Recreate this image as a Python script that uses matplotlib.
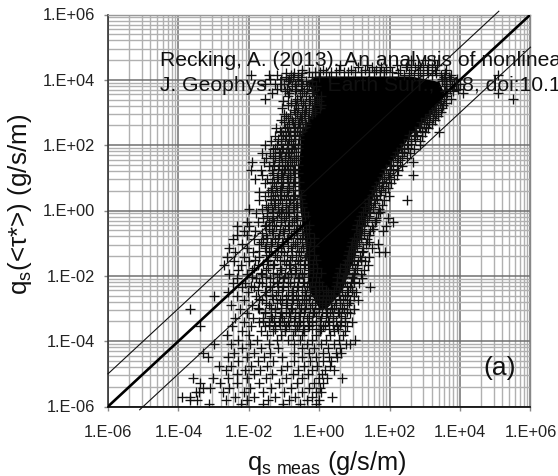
import matplotlib
matplotlib.use("Agg")
import matplotlib.pyplot as plt
import numpy as np

plt.rcParams['font.family'] = ['Liberation Sans', 'DejaVu Sans']
plt.rcParams['mathtext.default'] = 'regular'

tick_exponents = [-6, -4, -2, 0, 2, 4, 6]
tick_labels = ['1.E-06', '1.E-04', '1.E-02', '1.E+00', '1.E+02', '1.E+04', '1.E+06']

# 1:1 line and the factor-of-10 lines
line_1to1_x = [-6, 6]
line_1to1_y = [-6, 6]
line_upper_x = [-6, 5.1]
line_upper_y = [-5, 6.1]
line_lower_x = [-5.1, 6]
line_lower_y = [-6.1, 5]

# Where the crosses overlap into solid black they cannot be told apart,
# so that region is drawn as an envelope.
solid_y = [4.12, 3.95, 3.54, 2.92, 2.31, 1.85, 1.24, 0.63, 0.02, -0.6, -1.51, -2.43, -3.0]
solid_left = [-0.1, -0.35, -0.12, -0.25, -0.55, -0.55, -0.6, -0.6, -0.55, -0.45, -0.35, -0.3, 0.0]
solid_right = [2.6, 3.4, 3.57, 3.15, 2.58, 2.3, 1.87, 1.6, 1.4, 1.2, 0.95, 0.65, 0.2]

# Crosses that can be told apart, row by row (estimated)
row_y = [4.6, 4.45, 4.3, 4.15, 4.02, 3.88, 3.72, 3.6, 3.42, 3.28, 3.15, 3.02, 2.9, 2.78, 2.65, 2.52,
         2.4, 2.27, 2.14, 2.0, 1.88, 1.75, 1.62, 1.5, 1.37, 1.24, 1.1, 0.97, 0.84, 0.7, 0.57, 0.44,
         0.31, 0.18, 0.05, -0.08, -0.22, -0.35, -0.48, -0.62, -0.75, -0.88, -1.02, -1.15, -1.28,
         -1.42, -1.55, -1.68, -1.82, -1.95, -2.08, -2.22, -2.35, -2.48, -2.62, -2.75, -2.88,
         -3.02, -3.15, -3.28, -3.42, -3.55, -3.68, -3.82, -3.95, -4.08, -4.22, -4.35, -4.48,
         -4.62, -4.75, -4.88, -5.02, -5.13, -5.28, -5.43, -5.56, -5.7, -5.8, -5.92]
row_x = [
    [2.6, 3.0, 3.25],
    [0.6, 1.35, 2.2, 2.5, 2.8, 3.1, 3.35],
    [-0.5, 0.1, 0.55, 0.9, 1.3, 1.6, 1.9, 2.3, 2.6, 2.85, 3.05, 3.3, 3.6],
    [-1.95, -1.42, -1.2, -0.8, -0.6, 2.4, 2.7, 2.95, 3.2, 3.45, 3.75, 5.08],
    [-1.4, -1.1, -0.85, -0.6, 3.5, 3.72, 3.92],
    [-1.55, -1.25, -1.0, -0.7, -0.5, 3.6, 3.83, 4.0],
    [-1.2, -0.92, -0.65, -0.35, 3.7, 3.95],
    [-1.33, -0.85, -0.5, -0.2, 3.62, 4.09, 5.08],
    [-1.54, -0.62, -0.3, -0.05, 3.55, 3.75, 5.5],
    [-0.8, -0.45, -0.15, 3.42, 3.6],
    [-1.05, -0.6, -0.3, 0.02, 3.3, 3.5],
    [-0.7, -0.4, -0.12, 3.25, 3.45],
    [-0.95, -0.55, -0.3, 3.15, 3.38],
    [-1.1, -0.78, -0.48, 3.05, 3.28],
    [-0.85, -0.6, -0.38, 2.98, 3.2],
    [-1.22, -0.98, -0.7, -0.45, 2.85, 3.1],
    [-1.08, -0.82, -0.55, 2.75, 3.0, 3.4],
    [-1.25, -0.95, -0.68, 2.7, 2.92],
    [-1.38, -1.1, -0.8, 2.6, 2.85],
    [-1.55, -1.2, -0.92, -0.68, 2.5, 2.86],
    [-1.32, -1.05, -0.78, 2.4, 2.68],
    [-1.62, -1.4, -1.12, -0.85, 2.35, 2.58],
    [-1.5, -1.25, -0.98, -0.72, 2.25, 2.5],
    [-1.92, -1.58, -1.3, -1.05, -0.78, 2.2, 2.66],
    [-1.42, -1.15, -0.88, 2.05, 2.35],
    [-1.95, -1.65, -1.35, -1.0, -0.75, 2.0, 2.25],
    [-1.62, -1.3, -1.08, -0.82, 1.95, 2.66, 2.2],
    [-1.82, -1.48, -1.18, -0.92, 1.85, 2.12],
    [-1.55, -1.28, -1.02, -0.75, 1.78, 2.05],
    [-1.35, -1.1, -0.85, 1.7, 1.95],
    [-1.7, -1.45, -1.2, -0.92, 1.62, 1.88],
    [-1.55, -1.3, -1.0, -0.72, 1.62, 1.98],
    [-1.72, -1.38, -1.12, -0.82, 1.55, 1.85, 2.5],
    [-1.5, -1.25, -0.95, -0.65, 1.48, 1.78],
    [-2.0, -1.62, -1.35, -1.05, -0.75, 1.42, 1.7],
    [-1.8, -1.48, -1.15, -0.85, 1.4, 1.68],
    [-1.6, -1.3, -1.0, -0.65, 1.35, 1.62, 1.95],
    [-2.05, -1.75, -1.42, -1.1, -0.78, 1.3, 1.58, 2.1],
    [-2.33, -2.0, -1.55, -1.22, -0.9, -0.55, 1.22, 1.5, 1.9],
    [-2.15, -1.82, -1.35, -1.02, -0.65, 1.18, 1.45, 1.82],
    [-2.35, -2.05, -1.5, -1.15, -0.8, -0.45, 1.15, 1.42],
    [-2.45, -1.85, -1.6, -1.25, -0.92, -0.55, 1.08, 1.35],
    [-2.2, -1.72, -1.38, -1.02, -0.68, -0.38, 1.05, 1.32, 1.68],
    [-2.55, -2.05, -1.55, -1.18, -0.8, -0.45, 1.02, 1.25, 1.5],
    [-2.38, -1.88, -1.38, -1.0, -0.58, 0.95, 1.22, 1.87, 1.7],
    [-2.62, -2.15, -1.7, -1.2, -0.78, -0.4, 0.9, 1.15, 1.4],
    [-2.42, -2.0, -1.48, -1.0, -0.6, 0.85, 1.1, 1.3],
    [-2.7, -2.22, -1.75, -1.3, -0.85, -0.42, 0.8, 1.08, 1.38],
    [-2.3, -1.92, -1.52, -1.08, -0.65, -0.3, 0.78, 1.02, 1.28],
    [-2.55, -2.05, -1.62, -1.2, -0.8, -0.48, 0.72, 1.0, 1.2],
    [-2.35, -1.8, -1.4, -1.0, -0.6, 0.68, 0.95, 1.22],
    [-2.45, -2.12, -1.62, -1.2, -0.82, -0.42, 0.65, 0.9, 1.12],
    [-2.2, -1.85, -1.4, -1.02, -0.62, -0.25, 0.6, 0.88, 1.44],
    [-2.6, -2.02, -1.55, -1.18, -0.78, -0.4, -0.1, 0.25, 0.55, 0.82, 1.05],
    [-3.0, -2.35, -1.8, -1.35, -0.95, -0.6, -0.25, 0.1, 0.4, 0.72, 1.0],
    [-2.15, -1.62, -1.12, -0.75, -0.42, -0.05, 0.28, 0.6, 0.88, 1.1],
    [-2.5, -1.92, -1.42, -0.95, -0.58, -0.2, 0.15, 0.48, 0.8],
    [-3.67, -2.25, -1.72, -1.25, -0.78, -0.4, 0.0, 0.35, 0.7, 0.98],
    [-2.05, -1.55, -1.1, -0.85, -0.55, -0.18, 0.22, 0.55, 0.88],
    [-2.38, -1.88, -1.6, -1.35, -1.05, -0.7, -0.35, 0.05, 0.4, 0.72],
    [-2.15, -1.72, -1.42, -1.15, -0.9, -0.55, -0.2, 0.28, 0.62, 0.92],
    [-3.4, -2.48, -1.95, -1.55, -1.25, -0.95, -0.62, -0.3, 0.12, 0.5, 0.8],
    [-2.2, -1.65, -1.3, -0.98, -0.7, -0.42, 0.02, 0.42, 0.72],
    [-2.62, -2.0, -1.48, -1.1, -0.75, -0.48, -0.1, 0.3, 0.68],
    [-2.3, -1.78, -1.2, -0.9, -0.55, -0.2, 0.18, 0.55, 1.02],
    [-3.0, -2.52, -1.98, -1.42, -0.72, -0.35, 0.05, 0.42, 0.75, 0.88],
    [-2.2, -1.65, -1.18, -0.5, -0.15, 0.25, 0.6],
    [-3.3, -2.42, -1.85, -1.4, -0.72, -0.3, 0.1, 0.48, 0.62],
    [-3.15, -2.6, -2.05, -1.58, -1.05, -0.48, -0.1, 0.28, 0.5],
    [-2.3, -1.75, -1.3, -0.72, -0.25, 0.12, 0.32],
    [-2.85, -2.5, -1.95, -1.48, -0.92, -0.42, -0.05, 0.3],
    [-2.65, -2.12, -1.68, -1.1, -0.6, -0.2, 0.15, 0.42],
    [-2.35, -1.85, -1.35, -0.75, -0.32, 0.08],
    [-3.59, -3.02, -2.6, -2.05, -1.5, -0.95, -0.48, 0.0, 0.22, 0.65],
    [-3.39, -2.82, -2.35, -1.72, -1.15, -0.62, -0.15, 0.12],
    [-3.3, -3.1, -2.55, -1.98, -1.38, -0.8, -0.3, 0.03],
    [-3.41, -3.5, -2.72, -2.15, -1.6, -1.0, -0.5, -0.1, 0.05],
    [-3.9, -3.67, -2.4, -1.85, -1.25, -0.68, -0.22, 0.37],
    [-3.67, -3.47, -2.65, -2.05, -1.45, -0.85, -0.35, 0.0],
    [-3.13, -2.22, -1.6, -1.02, -0.55, -0.08],
]

# Crosses of the crowded fringe round the solid part (estimated)
dense_y = [4.38, 4.24, 4.2, 4.08, 3.95, 3.8, 3.66, 3.5, 3.36, 3.22, 3.08, 2.95, 2.82, 2.7, 2.56, 2.44, 2.3,
           2.18, 2.05, 1.92, 1.78, 1.66, 1.54, 1.4, 1.28, 1.14, 1.02, 0.88, 0.75, 0.62, 0.48, 0.36,
           0.22, 0.1, -0.04, -0.17, -0.3, -0.44, -0.57, -0.7, -0.84, -0.97, -1.1, -1.24, -1.37,
           -1.5, -1.64, -1.77, -1.9, -2.04, -2.18, -2.3, -2.44, -2.58, -2.7, -2.84, -2.97, -3.1,
           -3.24, -3.37, -3.5, -3.64]
dense_x = [
    [1.1, 1.5, 1.75, 2.0, 2.45, 2.72, 2.95, 3.2],
    [-0.3, -0.12, 0.02, 0.2, 0.32, 0.48, 0.7, 0.82, 1.02, 1.18, 1.42, 1.55, 1.72, 1.85, 2.08],
    [-0.95, -0.72, -0.5, 2.25, 2.55, 2.8, 3.08, 3.32, 3.58],
    [-0.95, -0.75, -0.52, -0.22, 0.0, 0.28, 3.55, 3.68],
    [-0.88, -0.6, -0.38, -0.2, 3.5, 3.7],
    [-0.78, -0.52, -0.28, -0.08, 3.55, 3.78],
    [-0.98, -0.7, -0.42, -0.18, 3.58, 3.8],
    [-0.88, -0.55, -0.38, -0.15, 0.05, 3.6],
    [-1.02, -0.7, -0.52, -0.25, -0.02, 3.45],
    [-0.9, -0.65, -0.4, -0.22, 0.05, 3.32, 3.52],
    [-0.72, -0.5, -0.38, -0.22, 3.2, 3.38],
    [-1.0, -0.82, -0.62, -0.42, -0.22, 3.12, 3.32],
    [-0.88, -0.68, -0.52, -0.32, 3.0, 3.22],
    [-1.0, -0.75, -0.58, -0.4, 2.9, 3.12],
    [-0.92, -0.72, -0.55, -0.4, 2.82, 3.02],
    [-1.12, -0.9, -0.72, -0.62, -0.48, 2.72, 2.92],
    [-1.02, -0.85, -0.72, -0.58, 2.55, 2.78],
    [-1.18, -0.98, -0.85, -0.7, -0.58, 2.52, 2.72],
    [-1.08, -0.9, -0.75, -0.6, 2.42, 2.62],
    [-1.25, -1.02, -0.88, -0.72, -0.6, 2.32, 2.52],
    [-1.15, -0.95, -0.8, -0.65, 2.22, 2.42],
    [-1.32, -1.08, -0.9, -0.72, -0.6, 2.15, 2.35],
    [-1.15, -0.98, -0.82, -0.65, 2.1, 2.28],
    [-1.28, -1.05, -0.92, -0.72, -0.6, 2.0, 2.2],
    [-1.18, -0.98, -0.82, -0.68, 1.9, 2.1],
    [-1.32, -1.05, -0.88, -0.72, -0.6, 1.85, 2.02],
    [-1.2, -1.02, -0.82, -0.68, 1.78, 1.98],
    [-1.35, -1.08, -0.9, -0.72, -0.58, 1.7, 1.9],
    [-1.22, -1.05, -0.85, -0.68, 1.62, 1.82],
    [-1.38, -1.12, -0.92, -0.75, -0.58, 1.55, 1.75],
    [-1.25, -1.08, -0.88, -0.68, -0.52, 1.5, 1.72],
    [-1.38, -1.18, -0.95, -0.75, -0.55, 1.42, 1.65],
    [-1.28, -1.05, -0.85, -0.62, -0.48, 1.38, 1.58],
    [-1.45, -1.18, -0.95, -0.72, -0.5, 1.3, 1.52],
    [-1.32, -1.08, -0.88, -0.62, -0.42, 1.25, 1.45, 1.72],
    [-1.48, -1.2, -0.95, -0.72, -0.5, -0.32, 1.2, 1.4],
    [-1.35, -1.08, -0.85, -0.62, -0.4, 1.12, 1.35, 1.6],
    [-1.52, -1.28, -0.98, -0.72, -0.5, -0.28, 1.08, 1.28],
    [-1.42, -1.12, -0.85, -0.62, -0.38, 1.05, 1.22, 1.52],
    [-1.62, -1.3, -1.0, -0.72, -0.5, -0.28, 1.12, 1.28],
    [-1.48, -1.18, -0.88, -0.62, -0.35, -0.15, 1.0, 1.2],
    [-1.65, -1.35, -1.05, -0.75, -0.5, -0.25, 0.92, 1.12, 1.4],
    [-1.5, -1.2, -0.9, -0.62, -0.38, -0.15, 0.9, 1.08],
    [-1.72, -1.42, -1.08, -0.78, -0.52, -0.28, 0.85, 1.02, 1.25],
    [-1.52, -1.25, -0.92, -0.65, -0.38, -0.15, 0.82, 1.0],
    [-1.82, -1.45, -1.12, -0.82, -0.55, -0.3, -0.1, 0.78, 0.98, 1.18],
    [-1.6, -1.28, -0.95, -0.68, -0.4, -0.18, 0.72, 0.92],
    [-1.85, -1.45, -1.12, -0.82, -0.55, -0.3, -0.05, 0.6, 0.85, 1.08],
    [-1.65, -1.3, -0.98, -0.7, -0.42, -0.18, 0.05, 0.55, 0.75, 0.98],
    [-1.9, -1.5, -1.15, -0.88, -0.58, -0.32, -0.08, 0.5, 0.7, 0.92],
    [-1.7, -1.32, -1.02, -0.72, -0.45, -0.2, 0.0, 0.5, 0.72, 1.0],
    [-1.95, -1.52, -1.18, -0.9, -0.6, -0.35, -0.12, 0.08, 0.48, 0.78],
    [-1.75, -1.35, -1.05, -0.75, -0.5, -0.25, -0.02, 0.2, 0.42, 0.65, 0.92],
    [-1.5, -1.22, -0.9, -0.65, -0.38, -0.12, 0.1, 0.32, 0.55, 0.78],
    [-1.72, -1.32, -1.05, -0.78, -0.5, -0.28, 0.0, 0.2, 0.45, 0.68],
    [-1.5, -1.2, -0.92, -0.62, -0.38, -0.12, 0.08, 0.32, 0.58, 0.85],
    [-1.75, -1.38, -1.08, -0.8, -0.52, -0.25, -0.02, 0.18, 0.42, 0.65],
    [-1.55, -1.25, -0.95, -0.68, -0.42, -0.15, 0.08, 0.3, 0.52, 0.78],
    [-1.38, -1.12, -0.82, -0.58, -0.3, -0.08, 0.18, 0.38, 0.62],
    [-1.6, -1.28, -1.0, -0.72, -0.45, -0.2, 0.02, 0.25, 0.48, 0.72],
    [-1.42, -1.12, -0.85, -0.58, -0.32, -0.08, 0.15, 0.38, 0.6],
    [-1.25, -0.98, -0.7, -0.45, -0.2, 0.05, 0.28, 0.52],
]

xs = np.concatenate([np.array(v, float) for v in row_x + dense_x])
ys = np.concatenate([np.full(len(v), y, float)
                     for v, y in zip(row_x + dense_x, row_y + dense_y)])

fig = plt.figure(figsize=(5.58, 4.76), dpi=100)
W, H = 558, 476
ax = fig.add_axes([108 / W, 1 - 406.5 / H, 422.5 / W, 392 / H])
ax.set_xscale('log')
ax.set_yscale('log')
ax.set_xlim(1e-6, 1e6)
ax.set_ylim(1e-6, 1e6)

ticks = [10.0 ** e for e in tick_exponents]
minor = [10.0 ** e * n ** 2 for e in tick_exponents[:-1] for n in range(2, 10)]
for axis in (ax.xaxis, ax.yaxis):
    axis.set_major_locator(matplotlib.ticker.FixedLocator(ticks))
    axis.set_minor_locator(matplotlib.ticker.FixedLocator(minor))
    axis.set_major_formatter(matplotlib.ticker.NullFormatter())
    axis.set_minor_formatter(matplotlib.ticker.NullFormatter())
ax.set_xticks(ticks, tick_labels)
ax.set_yticks(ticks, tick_labels)
ax.tick_params(which='major', direction='out', length=3, width=1, color='#888888',
               labelsize=11.8, labelcolor='#222222')
ax.tick_params(axis='x', which='major', pad=10)
ax.tick_params(axis='y', which='major', pad=6)
ax.tick_params(which='minor', length=0)
ax.grid(which='minor', color='#b0b0b0', lw=1.0, zorder=1)
ax.grid(which='major', color='#707070', lw=1.1, zorder=1)
ax.set_axisbelow(True)
for side, col, lw in (('left', '#333333', 1.2), ('bottom', '#111111', 1.3),
                      ('top', '#999999', 1.0), ('right', '#888888', 1.0)):
    ax.spines[side].set_color(col)
    ax.spines[side].set_linewidth(lw)

ax.fill_betweenx(10.0 ** np.array(solid_y), 10.0 ** np.array(solid_left),
                 10.0 ** np.array(solid_right), color='black', lw=0, zorder=3)
ax.plot(10.0 ** xs, 10.0 ** ys, ls='none', marker='+', ms=7.6, mew=0.95, color='#111111', zorder=4)

ax.plot(10.0 ** np.array(line_1to1_x), 10.0 ** np.array(line_1to1_y), color='black', lw=1.9, zorder=4)
ax.plot(10.0 ** np.array(line_upper_x), 10.0 ** np.array(line_upper_y), color='#111111', lw=0.8,
        zorder=4, clip_on=False)
ax.plot(10.0 ** np.array(line_lower_x), 10.0 ** np.array(line_lower_y), color='#111111', lw=0.8,
        zorder=4, clip_on=False)

fig.text(160 / W, 1 - 66 / H, 'Recking, A. (2013). An analysis of nonlinearity', fontsize=15.2,
         color='#111111', zorder=6)
fig.text(160 / W, 1 - 91 / H, 'J. Geophys. Res. Earth Surf., 118, doi:10.1002/jgrf.20090', fontsize=15.2,
         color='#111111', zorder=2)
fig.text(500 / W, 1 - 368 / H, '(a)', fontsize=19, color='#111111', ha='center', va='center')
fig.text(327 / W, 1 - 463 / H, 'q$_{s\\ meas}$ (g/s/m)', fontsize=18.3, color='#111111',
         ha='center', va='center')
fig.text(20 / W, 1 - 204 / H, 'q$_{s}$(<τ*>) (g/s/m)', fontsize=18.7, color='#111111',
         ha='center', va='center', rotation=90)

fig.savefig('out.png', dpi=100)
